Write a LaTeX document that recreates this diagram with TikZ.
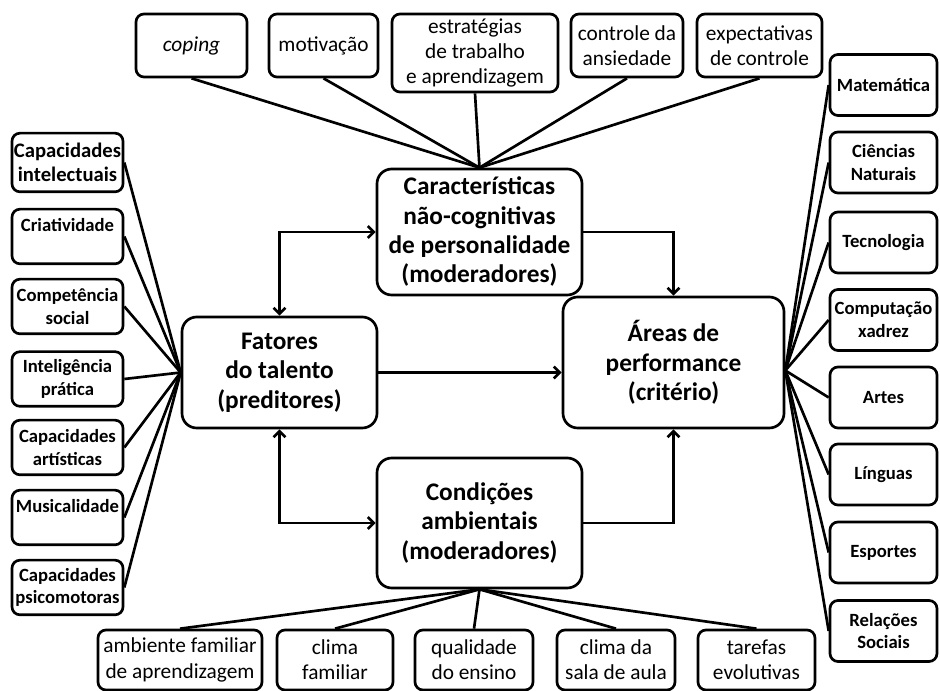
\documentclass[tikz,border=0pt]{standalone}
\usepackage{fontspec}
\setmainfont{Carlito}
\usepackage{tikz}
\usetikzlibrary{arrows.meta, positioning, calc}

\begin{document}
\begin{tikzpicture}[
    x=0.75pt, y=-0.75pt,
    >={Straight Barb[length=4.5pt, width=9pt]},
    core/.style={
        draw, line width=2pt, rounded corners=11pt, align=center, inner sep=0pt,
        font=\fontsize{19}{22}\selectfont\bfseries
    },
    side/.style={
        draw, line width=2pt, rounded corners=6pt, align=center, inner sep=0pt,
        font=\fontsize{14}{17}\selectfont\bfseries
    },
    rim/.style={
        draw, line width=2pt, rounded corners=6pt, align=center, inner sep=0pt,
        font=\fontsize{16}{19}\selectfont
    },
    link/.style={line width=2pt},
    flow/.style={->, line width=2pt}
]

\useasboundingbox (0,0) rectangle (940,691);

% CENTRAL NODES
\node[core, minimum width=153.75pt, minimum height=94.5pt] (pers) at (479.5,232) {Características\\não-cognitivas\\de personalidade\\(moderadores)};
\node[core, minimum width=146.25pt, minimum height=83.25pt] (talento) at (279.5,372.5) {Fatores\\do talento\\(preditores)};
\node[core, minimum width=165.75pt, minimum height=98.25pt] (areas) at (673.5,362.5) {Áreas de\\performance\\(critério)};
\node[core, minimum width=153.75pt, minimum height=97.5pt] (cond) at (479.5,523) {Condições\\ambientais\\(moderadores)};
\coordinate (areashub) at ([yshift=-6pt]areas.east);

% TOP ROW (personality)
\node[rim, minimum width=83.25pt, minimum height=47.25pt] (coping) at (191.5,45.5) {\textit{coping}};
\node[rim, minimum width=81.75pt, minimum height=47.25pt] (motiv) at (323.5,45.5) {motivação};
\node[rim, minimum width=124.5pt, minimum height=58.5pt] (estrat) at (475,53) {estratégias\\de trabalho\\e aprendizagem};
\node[rim, minimum width=84pt, minimum height=47.25pt] (ansied) at (627,45.5) {controle da\\ansiedade};
\node[rim, minimum width=93.75pt, minimum height=47.25pt] (expect) at (759.5,45.5) {expectativas\\de controle};

% LEFT COLUMN (talent factors)
\node[side, minimum width=83.25pt, minimum height=44pt, font=\fontsize{15.5}{18}\selectfont\bfseries] (intel) at (67.5,162.5) {Capacidades\\intelectuais};
\node[side, minimum width=83.25pt, minimum height=41pt] (criat) at (67.5,236.5) {Criatividade\\\mbox{}};
\node[side, minimum width=83.25pt, minimum height=41pt] (social) at (67.5,306.5) {Competência\\social};
\node[side, minimum width=83.25pt, minimum height=41pt] (pratica) at (67.5,379) {Inteligência\\prática};
\node[side, minimum width=83.25pt, minimum height=41pt] (artist) at (67.5,447.5) {Capacidades\\artísticas};
\node[side, minimum width=83.25pt, minimum height=41pt] (music) at (67.5,517.5) {Musicalidade\\\mbox{}};
\node[side, minimum width=83.25pt, minimum height=41pt] (psico) at (67.5,587.5) {Capacidades\\psicomotoras};

% RIGHT COLUMN (performance areas)
\node[side, minimum width=80.25pt, minimum height=45.75pt] (mat) at (883.5,85) {Matemática};
\node[side, minimum width=80.25pt, minimum height=45.75pt] (cien) at (883.5,162.5) {Ciências\\Naturais};
\node[side, minimum width=80.25pt, minimum height=45.75pt] (tec) at (883.5,242.5) {Tecnologia};
\node[side, minimum width=80.25pt, minimum height=45.75pt] (comp) at (883.5,320) {Computação\\xadrez};
\node[side, minimum width=80.25pt, minimum height=45.75pt] (artes) at (883.5,397.5) {Artes};
\node[side, minimum width=80.25pt, minimum height=45.75pt] (ling) at (883.5,474.5) {Línguas};
\node[side, minimum width=80.25pt, minimum height=45.75pt] (esp) at (883.5,552.5) {Esportes};
\node[side, minimum width=80.25pt, minimum height=45.75pt] (rel) at (883.5,631) {Relações\\Sociais};

% BOTTOM ROW (environment)
\node[rim, minimum width=123pt, minimum height=45pt] (famapr) at (180,660) {ambiente familiar\\de aprendizagem};
\node[rim, minimum width=87pt, minimum height=45pt] (climafam) at (335,660) {clima\\familiar};
\node[rim, minimum width=88.5pt, minimum height=45pt] (ensino) at (474,660) {qualidade\\do ensino};
\node[rim, minimum width=88.5pt, minimum height=45pt] (sala) at (616,660) {clima da\\sala de aula};
\node[rim, minimum width=87.75pt, minimum height=45pt] (tarefas) at (756.5,660) {tarefas\\evolutivas};

% FAN-IN LINES
\draw[link] (coping.south) -- (pers.north);
\draw[link] (motiv.south) -- (pers.north);
\draw[link] (estrat.south) -- (pers.north);
\draw[link] (ansied.south) -- (pers.north);
\draw[link] (expect.south) -- (pers.north);

\draw[link] (intel.east) -- (talento.west);
\draw[link] (criat.east) -- (talento.west);
\draw[link] (social.east) -- (talento.west);
\draw[link] (pratica.east) -- (talento.west);
\draw[link] (artist.east) -- (talento.west);
\draw[link] (music.east) -- (talento.west);
\draw[link] (psico.east) -- (talento.west);

\draw[link] (mat.west) -- (areashub);
\draw[link] (cien.west) -- (areashub);
\draw[link] (tec.west) -- (areashub);
\draw[link] (comp.west) -- (areashub);
\draw[link] (artes.west) -- (areashub);
\draw[link] (ling.west) -- (areashub);
\draw[link] (esp.west) -- (areashub);
\draw[link] (rel.west) -- (areashub);

\draw[link] (cond.south) -- (famapr.north);
\draw[link] (cond.south) -- (climafam.north);
\draw[link] (cond.south) -- (ensino.north);
\draw[link] (cond.south) -- (sala.north);
\draw[link] (cond.south) -- (tarefas.north);

% FLOWS
\draw[flow, <->] (talento.north) |- (pers.west);
\draw[flow, <->] (talento.south) |- (cond.west);
\draw[flow] (talento.east) -- (talento.east -| areas.west);
\draw[flow] (pers.east) -| (areas.north);
\draw[flow] (cond.east) -| (areas.south);

\end{tikzpicture}
\end{document}
